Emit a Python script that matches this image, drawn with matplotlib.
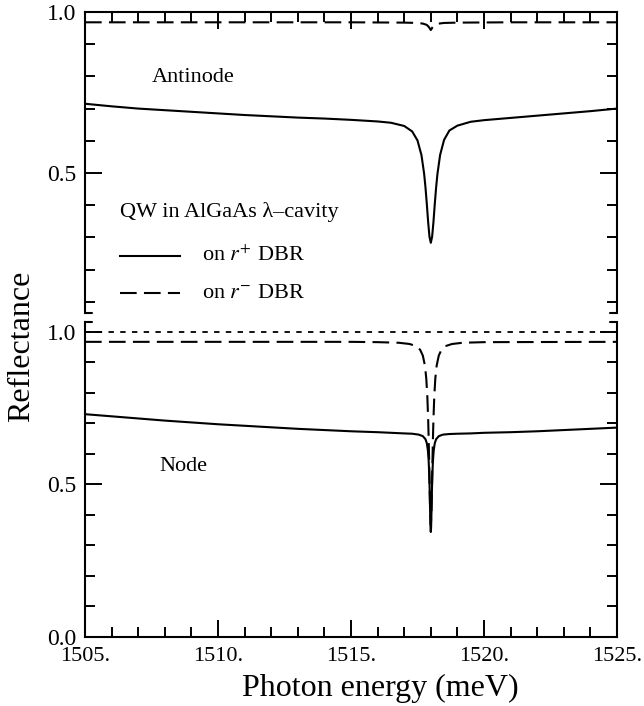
import matplotlib
matplotlib.use("Agg")
import matplotlib.pyplot as plt
from matplotlib.ticker import MultipleLocator, FixedLocator, FuncFormatter
from matplotlib.lines import Line2D

plt.rcParams['font.family'] = ['Liberation Serif', 'DejaVu Serif']
plt.rcParams['mathtext.fontset'] = 'stix'

# ---------------- data ----------------
# Antinode, QW on r+ DBR (solid)
anti_plus_x = [1505, 1506, 1507, 1508, 1509, 1510, 1511, 1512, 1513, 1514, 1515, 1516,
               1516.5, 1517, 1517.3, 1517.5, 1517.65, 1517.75, 1517.8, 1517.85, 1517.9,
               1517.95, 1518.0, 1518.05, 1518.1, 1518.15, 1518.2, 1518.25, 1518.35,
               1518.5, 1518.7, 1519, 1519.5, 1520, 1521, 1522, 1523, 1524, 1525]
anti_plus_y = [0.715, 0.707, 0.700, 0.695, 0.690, 0.685, 0.680, 0.676, 0.672, 0.669, 0.665, 0.660,
               0.656, 0.646, 0.629, 0.601, 0.555, 0.497, 0.455, 0.404, 0.348,
               0.302, 0.283, 0.302, 0.348, 0.404, 0.455, 0.497, 0.556,
               0.603, 0.632, 0.647, 0.659, 0.664, 0.671, 0.678, 0.685, 0.692, 0.700]

# Antinode, QW on r- DBR (dashed)
anti_minus_x = [1505, 1510, 1515, 1517, 1517.5, 1517.7, 1517.85, 1517.93, 1518.0,
                1518.07, 1518.15, 1518.3, 1518.5, 1519, 1521, 1525]
anti_minus_y = [0.968, 0.968, 0.968, 0.967, 0.966, 0.964, 0.960, 0.953, 0.944,
                0.953, 0.960, 0.964, 0.966, 0.967, 0.968, 0.968]

# Node, QW on r+ DBR (solid)
node_plus_x = [1505, 1506, 1507, 1508, 1509, 1510, 1511, 1512, 1513, 1514, 1515, 1516,
               1516.5, 1517, 1517.3, 1517.55, 1517.7, 1517.8, 1517.85, 1517.89, 1517.92,
               1517.94, 1517.955, 1517.97, 1517.98, 1517.99, 1518.0,
               1518.01, 1518.02, 1518.03, 1518.045, 1518.06, 1518.08, 1518.11, 1518.15,
               1518.2, 1518.3, 1518.45, 1518.7, 1519, 1519.5, 1520, 1521, 1522, 1523, 1524, 1525]
node_plus_y = [0.730, 0.723, 0.716, 0.709, 0.703, 0.697, 0.692, 0.687, 0.682, 0.678, 0.674, 0.671,
               0.669, 0.667, 0.666, 0.663, 0.658, 0.648, 0.635, 0.612, 0.576,
               0.535, 0.489, 0.430, 0.389, 0.356, 0.344,
               0.356, 0.389, 0.430, 0.489, 0.535, 0.576, 0.612, 0.635,
               0.648, 0.658, 0.663, 0.665, 0.666, 0.667, 0.669, 0.671, 0.674, 0.678, 0.682, 0.686]

# Node, QW on r- DBR (dashed)
node_minus_x = [1505, 1510, 1515, 1516, 1516.8, 1517.2, 1517.45, 1517.6, 1517.7, 1517.78,
                1517.83, 1517.87, 1517.9, 1517.92, 1517.94, 1517.96, 1517.98, 1518.0,
                1518.02, 1518.04, 1518.06, 1518.08, 1518.1, 1518.13, 1518.17, 1518.22,
                1518.3, 1518.4, 1518.55, 1518.8, 1519.2, 1520, 1525]
node_minus_y = [0.967, 0.967, 0.967, 0.966, 0.964, 0.960, 0.953, 0.941, 0.922, 0.889,
                0.847, 0.787, 0.715, 0.649, 0.567, 0.476, 0.399, 0.367,
                0.399, 0.476, 0.567, 0.649, 0.715, 0.787, 0.847, 0.889,
                0.922, 0.941, 0.953, 0.960, 0.964, 0.966, 0.967]

# Reference line R = 1 (dotted) in the node panel
ref_x = [1505, 1525]
ref_y = [1.0, 1.0]

x_major = [1505, 1510, 1515, 1520, 1525]
x_labels = ["1505.", "1510.", "1515.", "1520.", "1525."]
y_labels_top = {0.5: "0.5", 1.0: "1.0"}
y_labels_bot = {0.0: "0.0", 0.5: "0.5", 1.0: "1.0"}

# ---------------- figure ----------------
W, H = 644, 706
fig = plt.figure(figsize=(W / 100, H / 100), dpi=100)

L, R = 85, 617
ax_top = fig.add_axes([L / W, 1 - 313 / H, (R - L) / W, (313 - 12) / H])
ax_bot = fig.add_axes([L / W, 1 - 637 / H, (R - L) / W, (637 - 321.7) / H])

lw = 1.5
dash = (8, 3.5)
for ax in (ax_top, ax_bot):
    ax.set_xlim(1505, 1525)
    for s in ax.spines.values():
        s.set_linewidth(1.5)
    ax.xaxis.set_major_locator(FixedLocator(x_major))
    ax.xaxis.set_minor_locator(MultipleLocator(1))
    ax.yaxis.set_minor_locator(MultipleLocator(0.1))
    ax.tick_params(which='both', direction='in', left=True, right=True, width=1.4, pad=7)
    ax.tick_params(axis='x', labelsize=16)
    ax.tick_params(axis='y', labelsize=17, pad=6)
    ax.tick_params(which='major', length=12)
    ax.tick_params(which='minor', length=7)

# top panel
ax_top.set_ylim(0.065, 1.0)
ax_top.spines['bottom'].set_visible(False)
ax_top.tick_params(axis='x', which='both', top=True, bottom=False,
                   labeltop=False, labelbottom=False)
ax_top.yaxis.set_major_locator(FixedLocator(list(y_labels_top.keys())))
ax_top.yaxis.set_major_formatter(FuncFormatter(lambda v, p: y_labels_top.get(round(v, 1), "")))
ax_top.plot(anti_plus_x, anti_plus_y, color='black', lw=lw)
ax_top.plot(anti_minus_x, anti_minus_y, color='black', lw=lw, dashes=dash)

ax_top.text(1507.5, 0.795, "Antinode", fontsize=16, va='center', ha='left')
ax_top.text(1506.3, 0.379, "QW in AlGaAs λ–cavity", fontsize=16, va='center', ha='left')
ax_top.plot([1506.32, 1508.57], [0.242, 0.242], color='black', lw=lw)
ax_top.plot([1506.32, 1508.57], [0.127, 0.127], color='black', lw=lw, dashes=dash)
ax_top.text(1509.4, 0.242, "on $r^{+}$ DBR", fontsize=16, va='center', ha='left')
ax_top.text(1509.4, 0.127, "on $r^{-}$ DBR", fontsize=16, va='center', ha='left')

# bottom panel
ax_bot.set_ylim(0.0, 1.033)
ax_bot.spines['top'].set_visible(False)
ax_bot.tick_params(axis='x', which='both', top=False, bottom=True)
ax_bot.set_xticklabels(x_labels)
ax_bot.yaxis.set_major_locator(FixedLocator(list(y_labels_bot.keys())))
ax_bot.yaxis.set_major_formatter(FuncFormatter(lambda v, p: y_labels_bot.get(round(v, 1), "")))
ax_bot.plot(ref_x, ref_y, color='black', lw=1.3, dashes=(3, 3.5))
ax_bot.plot(node_minus_x, node_minus_y, color='black', lw=lw, dashes=dash)
ax_bot.plot(node_plus_x, node_plus_y, color='black', lw=lw)
ax_bot.text(1507.8, 0.56, "Node", fontsize=16, va='center', ha='left')

# break stubs at the ends of the vertical spines
stub = 7 / (R - L)
for ax, yv in ((ax_top, 0.0), (ax_bot, 1.0)):
    for xs in ((0, stub), (1 - stub, 1)):
        ax.add_line(Line2D(xs, [yv, yv], transform=ax.transAxes, color='black',
                           lw=1.5, clip_on=False, solid_capstyle='round'))

fig.text(380 / W, 1 - 688 / H, "Photon energy (meV)", fontsize=23, ha='center', va='center')
fig.text(22 / W, 1 - 346 / H, "Reflectance", fontsize=23, ha='center', va='center', rotation=90)

fig.savefig("out.png", dpi=100)
